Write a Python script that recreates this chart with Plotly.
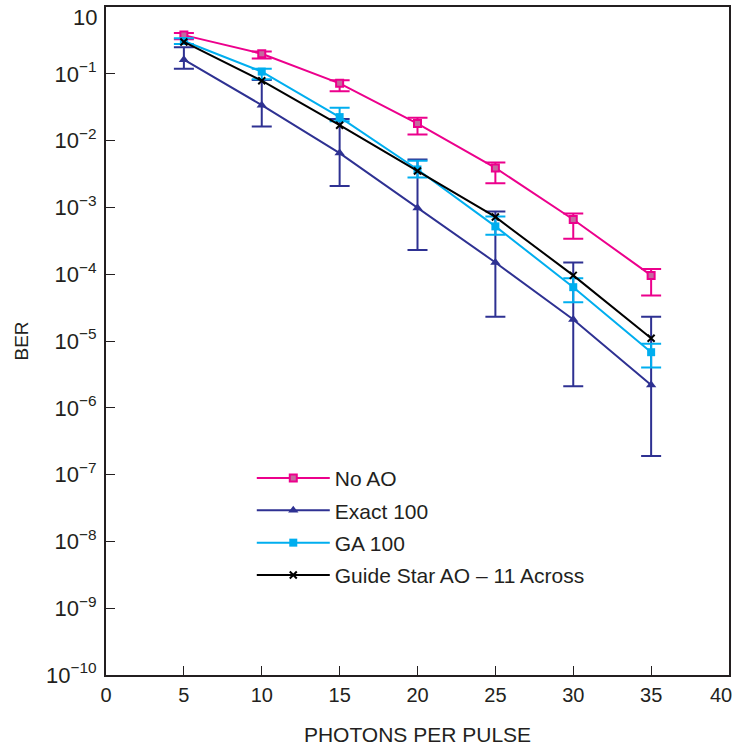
import plotly.graph_objects as go

photons = [5, 10, 15, 20, 25, 30, 35]

no_ao = [0.38, 0.20, 0.072, 0.018, 0.0039, 6.6e-4, 9.6e-5]
no_ao_hi = [0.41, 0.215, 0.08, 0.022, 0.0047, 8.1e-4, 1.2e-4]
no_ao_lo = [0.33, 0.17, 0.055, 0.0123, 0.0023, 3.4e-4, 4.8e-5]

exact = [0.163, 0.034, 0.0065, 0.00098, 1.5e-4, 2.1e-5, 2.2e-6]
exact_hi = [0.25, 0.081, 0.021, 0.0052, 8.7e-4, 1.5e-4, 2.3e-5]
exact_lo = [0.119, 0.0163, 0.0021, 2.3e-4, 2.3e-5, 2.1e-6, 1.9e-7]

ga = [0.31, 0.108, 0.0225, 0.0037, 5.2e-4, 6.4e-5, 6.8e-6]
ga_hi = [0.34, 0.119, 0.031, 0.0050, 7.3e-4, 8.7e-5, 9.1e-6]
ga_lo = [0.28, 0.083, 0.0195, 0.0028, 3.9e-4, 3.8e-5, 4.0e-6]

guide = [0.30, 0.079, 0.017, 0.0035, 7.2e-4, 9.6e-5, 1.1e-5]

ytick_vals = [1, 1e-1, 1e-2, 1e-3, 1e-4, 1e-5, 1e-6, 1e-7, 1e-8, 1e-9, 1e-10]
ytick_text = [""] + ["10<sup>\u2212%d</sup>" % k for k in range(1, 11)]
ytop_label = "10"
xtick_vals = [0, 5, 10, 15, 20, 25, 30, 35, 40]
xtick_text = ["0", "5", "10", "15", "20", "25", "30", "35", ""]
xend_label = "40"

MAGENTA = "#EC008C"
NAVY = "#2E3192"
CYAN = "#00AEEF"
BLACK = "#000000"
TXT = "#231F20"


def err(y, hi, lo, color):
    return dict(type="data", symmetric=False,
                array=[h - v for h, v in zip(hi, y)],
                arrayminus=[v - l for v, l in zip(y, lo)],
                color=color, thickness=2, width=10, visible=True)


fig = go.Figure()
fig.add_trace(go.Scatter(x=photons, y=no_ao, name="No AO", mode="lines+markers",
                         legendgroup="a",
                         line=dict(color=MAGENTA, width=2),
                         marker=dict(symbol="square", size=7, color="#C46A9E",
                                     line=dict(color=MAGENTA, width=2)),
                         error_y=err(no_ao, no_ao_hi, no_ao_lo, MAGENTA)))
fig.add_trace(go.Scatter(x=photons, y=exact, name="Exact 100", mode="lines+markers",
                         legendgroup="b",
                         line=dict(color=NAVY, width=2),
                         marker=dict(symbol="triangle-up", size=9, color=NAVY),
                         error_y=err(exact, exact_hi, exact_lo, NAVY)))
fig.add_trace(go.Scatter(x=photons, y=ga, name="GA 100", mode="lines+markers",
                         legendgroup="c",
                         line=dict(color=CYAN, width=2),
                         marker=dict(symbol="square", size=8, color=CYAN),
                         error_y=err(ga, ga_hi, ga_lo, CYAN)))
fig.add_trace(go.Scatter(x=photons, y=guide, name="Guide Star AO \u2013 11 Across",
                         mode="lines+markers", legendgroup="d",
                         line=dict(color=BLACK, width=2),
                         marker=dict(symbol="x-thin", size=7,
                                     line=dict(color=BLACK, width=2))))

fig.add_annotation(text=ytop_label, xref="paper", yref="paper", x=0, y=1,
                   xanchor="right", yanchor="top", xshift=-7, yshift=4,
                   showarrow=False, font=dict(size=22, color=TXT))
fig.add_annotation(text=xend_label, xref="x", yref="paper", x=40, y=0,
                   xanchor="right", yanchor="top", xshift=5, yshift=-7,
                   showarrow=False, font=dict(size=20, color=TXT))

fig.update_layout(
    width=735, height=746,
    margin=dict(l=106, r=6, t=7, b=71),
    plot_bgcolor="white", paper_bgcolor="white",
    font=dict(family="Liberation Sans, Arial, sans-serif", size=18, color=TXT),
    showlegend=True,
    legend=dict(x=0.234, y=0.325, xanchor="left", yanchor="top",
                bgcolor="rgba(0,0,0,0)", itemwidth=73, tracegroupgap=2,
                font=dict(size=21, color=TXT)),
    xaxis=dict(range=[0, 40], tickvals=xtick_vals, ticktext=xtick_text,
               ticks="inside", ticklen=9,
               tickcolor=TXT, tickwidth=1, showgrid=False, zeroline=False,
               showline=True, linecolor=TXT, linewidth=2, mirror=True,
               automargin=False, ticklabelstandoff=1,
               title=dict(text="PHOTONS PER PULSE", standoff=24,
                          font=dict(size=21)),
               tickfont=dict(size=20)),
    yaxis=dict(type="log", range=[-10, 0.0005], tickvals=ytick_vals,
               ticktext=ytick_text,
               ticks="inside", ticklen=9, tickcolor=TXT, tickwidth=1,
               showgrid=False, zeroline=False, showline=True, linecolor=TXT,
               linewidth=2, mirror=True, automargin=False, ticklabelstandoff=3,
               title=dict(text="BER", standoff=12, font=dict(size=19)),
               tickfont=dict(size=22)),
)

fig.write_html("out.html", config={"displayModeBar": False},
               post_script="document.body.style.margin='0';")
